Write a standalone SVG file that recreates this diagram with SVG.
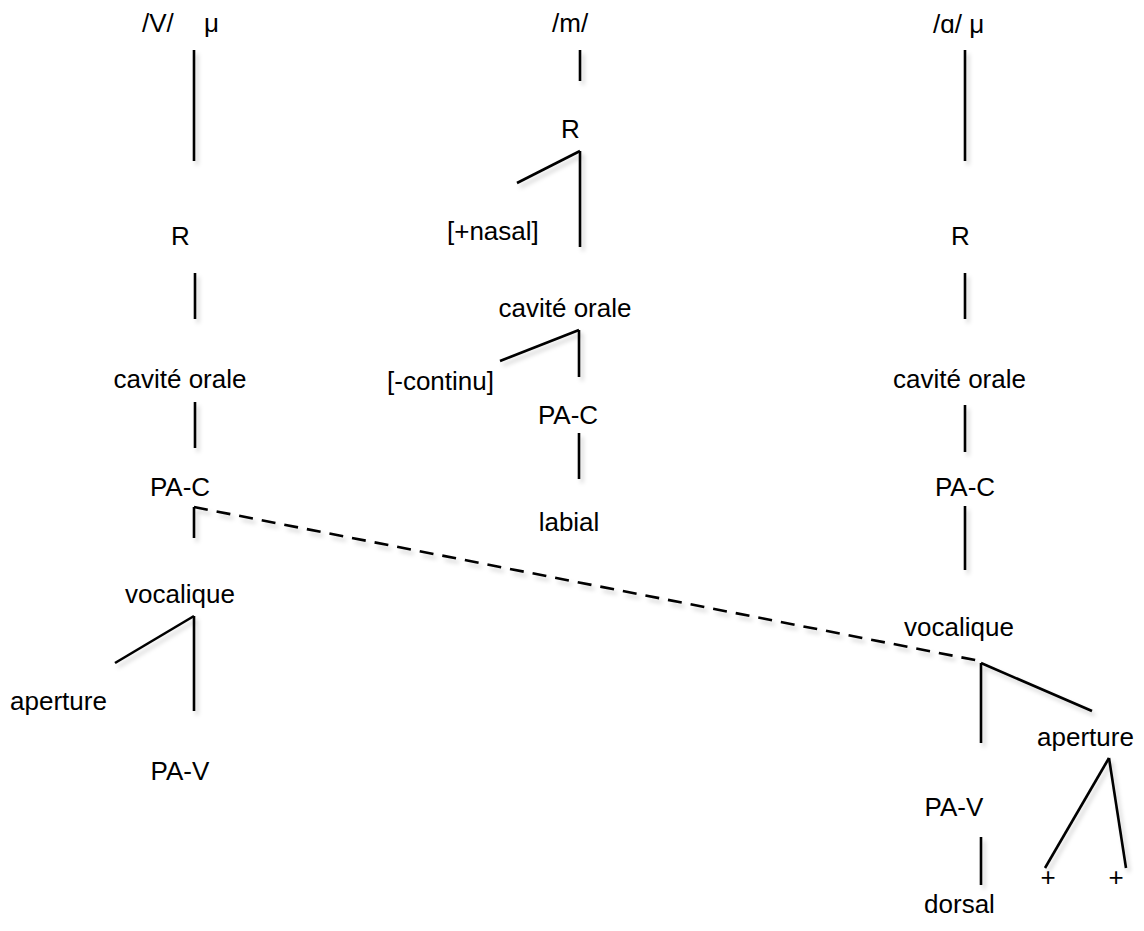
<svg xmlns="http://www.w3.org/2000/svg" width="1144" height="931" viewBox="0 0 1144 931">
<style>
text{font-family:"Liberation Sans","DejaVu Sans",Arial,sans-serif;font-size:26px;fill:#000}
.m{text-anchor:middle}
line{stroke:#000;stroke-width:2.6;fill:none}
.d{stroke-dasharray:14 9}
</style>
<defs>
<filter id="sh" x="-50%" y="-50%" width="200%" height="200%">
<feGaussianBlur in="SourceAlpha" stdDeviation="2"/>
<feOffset dx="3" dy="4" result="b"/>
<feFlood flood-color="#000" flood-opacity="0.18"/>
<feComposite in2="b" operator="in"/>
<feMerge><feMergeNode/><feMergeNode in="SourceGraphic"/></feMerge>
</filter>
</defs>
<rect width="1144" height="931" fill="#fff"/>
<g id="left">
<g id="n-V"><text x="142" y="32">/V/</text></g>
<g id="n-mu1"><text x="204" y="32">μ</text></g>
<g id="n-R1"><text class="m" x="180.5" y="245">R</text></g>
<g id="n-co1"><text class="m" x="180" y="388">cavité orale</text></g>
<g id="n-pac1"><text class="m" x="180" y="496">PA-C</text></g>
<g id="n-voc1"><text class="m" x="180" y="603">vocalique</text></g>
<g id="n-ap1"><text x="10" y="710">aperture</text></g>
<g id="n-pav1"><text class="m" x="180" y="780">PA-V</text></g>
</g>
<g id="middle">
<g id="n-m"><text x="552" y="32">/m/</text></g>
<g id="n-R2"><text class="m" x="570.5" y="138">R</text></g>
<g id="n-nasal"><text x="447" y="240">[+nasal]</text></g>
<g id="n-co2"><text class="m" x="565" y="317">cavité orale</text></g>
<g id="n-cont"><text x="387" y="390">[-continu]</text></g>
<g id="n-pac2"><text class="m" x="568" y="424">PA-C</text></g>
<g id="n-lab"><text class="m" x="569" y="531">labial</text></g>
</g>
<g id="right">
<g id="n-a"><text x="933" y="33">/ɑ/ μ</text></g>
<g id="n-R3"><text class="m" x="960.5" y="245">R</text></g>
<g id="n-co3"><text class="m" x="959.5" y="388">cavité orale</text></g>
<g id="n-pac3"><text class="m" x="965" y="496">PA-C</text></g>
<g id="n-voc3"><text class="m" x="959" y="636">vocalique</text></g>
<g id="n-ap3"><text x="1037" y="746">aperture</text></g>
<g id="n-pav3"><text class="m" x="954" y="816">PA-V</text></g>
<g id="n-dor"><text class="m" x="959.5" y="913">dorsal</text></g>
<g id="n-p1"><text class="m" x="1048" y="886">+</text></g>
<g id="n-p2"><text class="m" x="1116" y="886">+</text></g>
</g>
<g id="connectors" filter="url(#sh)">
<line x1="194" y1="50" x2="194" y2="161"/>
<line x1="195" y1="273" x2="195" y2="319"/>
<line x1="195" y1="402" x2="195" y2="448"/>
<line x1="194" y1="507" x2="194" y2="538"/>
<line class="d" x1="194" y1="507" x2="980" y2="661"/>
<line x1="194" y1="616" x2="194" y2="711"/>
<line x1="194" y1="616" x2="115" y2="663"/>
<line x1="580" y1="50" x2="580" y2="81"/>
<line x1="580" y1="151" x2="580" y2="247"/>
<line x1="580" y1="151" x2="517" y2="183"/>
<line x1="579" y1="330" x2="579" y2="377"/>
<line x1="579" y1="330" x2="500" y2="361"/>
<line x1="579" y1="433" x2="579" y2="479"/>
<line x1="965" y1="50" x2="965" y2="161"/>
<line x1="965" y1="273" x2="965" y2="319"/>
<line x1="965" y1="405" x2="965" y2="452"/>
<line x1="965" y1="506" x2="965" y2="570"/>
<line x1="981" y1="663" x2="981" y2="743"/>
<line x1="981" y1="663" x2="1092" y2="711"/>
<line x1="981" y1="837" x2="981" y2="885"/>
<line x1="1109" y1="758" x2="1045" y2="868"/>
<line x1="1109" y1="758" x2="1126" y2="868"/>
</g>
</svg>
